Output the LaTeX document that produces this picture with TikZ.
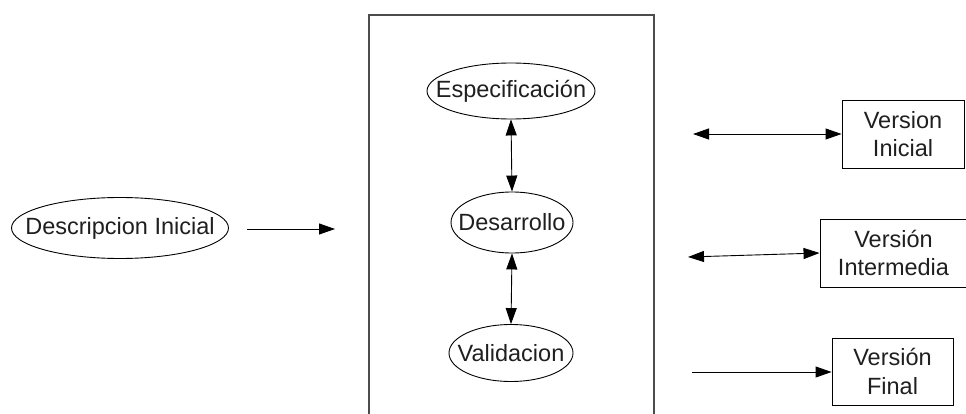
\documentclass[tikz,border=0pt]{standalone}
\usepackage{fontspec}
\setmainfont{Liberation Sans}
\usetikzlibrary{shapes.geometric,arrows.meta}

% centred text of zero width, so an ellipse keeps its given size
\newcommand{\ovaltext}[1]{\makebox[0pt]{#1}}

\begin{document}
\begin{tikzpicture}[x=1pt,y=-1pt,
  every node/.style={font=\fontsize{23.5}{28.5}\selectfont, text=black!88},
  oval/.style={ellipse, draw, line width=0.9pt, inner sep=0pt},
  stage/.style={rectangle, draw, line width=0.9pt, inner sep=0pt, align=center},
  link/.style={line width=0.9pt, -{Triangle[length=16pt,width=11pt]}},
  biLink/.style={line width=0.9pt, {Triangle[length=16pt,width=11pt]}-{Triangle[length=16pt,width=11pt]}},
]
\useasboundingbox (0,0) rectangle (966,414);

% process frame, open at the bottom
\draw[line width=1.1pt, black!70] (369,420) -- (369,15) -- (654,15) -- (654,420);

% ellipses
\node[oval, minimum width=217pt, minimum height=61pt] (desc) at (120,228) {\ovaltext{Descripcion Inicial}};
\node[oval, minimum width=168pt, minimum height=56pt] (spec) at (511,91) {\ovaltext{Especificación}};
\node[oval, minimum width=122pt, minimum height=61pt] (dev)  at (512,222.5) {\ovaltext{Desarrollo}};
\node[oval, minimum width=124pt, minimum height=57pt] (val)  at (511,353) {\ovaltext{Validacion}};

% output boxes
\node[stage, minimum width=122pt, minimum height=68pt] (vini) at (903,134) {Version\\Inicial};
\node[stage, minimum width=147pt, minimum height=68pt] (vint) at (893.5,253) {Versión\\Intermedia};
\node[stage, minimum width=121pt, minimum height=67pt] (vfin) at (892.5,371.5) {Versión\\Final};

% free ends of the connectors near the frame
\coordinate (inDesc) at (335,229);
\coordinate (outIni) at (693,134);
\coordinate (outInt) at (688,257);
\coordinate (outFin) at (692,372);

% connectors
\draw[link, shorten <=18pt] (desc.east |- inDesc) -- (inDesc);
\draw[biLink] (spec.south) -- (dev.north);
\draw[biLink] (dev.south) -- (val.north);
\draw[biLink] (outIni) -- (vini.west);
\draw[biLink] (outInt) -- (vint.west);
\draw[link] (outFin) -- (vfin.west |- outFin);
\end{tikzpicture}
\end{document}
